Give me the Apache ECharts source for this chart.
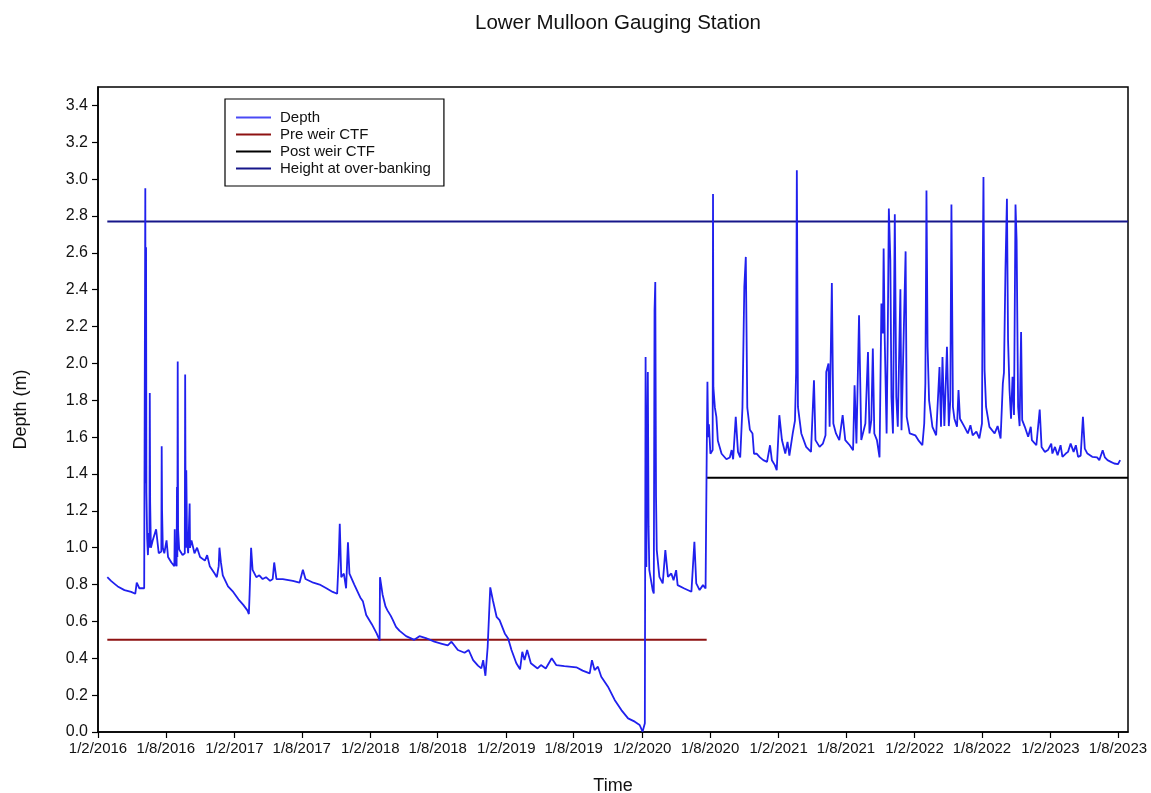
<!DOCTYPE html>
<html>
<head>
<meta charset="utf-8">
<title>Lower Mulloon Gauging Station</title>
<script src="https://cdn.jsdelivr.net/npm/echarts@6/dist/echarts.min.js"></script>
<style>
  html, body { margin: 0; padding: 0; background: #fff; }
  #chart { width: 1151px; height: 793px; }
</style>
</head>
<body>
<div id="chart"></div>
<script>
// depth readings (m)
var depthDates = [
  '2016-02-26','2016-03-07','2016-03-19','2016-03-22','2016-03-25','2016-04-12','2016-04-30','2016-05-11','2016-05-15','2016-05-22',
  '2016-06-04','2016-06-06','2016-06-07','2016-06-08','2016-06-09','2016-06-10','2016-06-12','2016-06-14','2016-06-16','2016-06-18',
  '2016-06-19','2016-06-20','2016-06-22','2016-06-27','2016-07-06','2016-07-13','2016-07-20','2016-07-21','2016-07-22','2016-07-24',
  '2016-07-28','2016-08-03','2016-08-07','2016-08-16','2016-08-24','2016-08-25','2016-08-26','2016-08-30','2016-08-31','2016-09-01',
  '2016-09-02','2016-09-03','2016-09-06','2016-09-15','2016-09-21','2016-09-22','2016-09-23','2016-09-24','2016-09-25','2016-09-27',
  '2016-09-30','2016-10-03','2016-10-04','2016-10-05','2016-10-09','2016-10-17','2016-10-24','2016-11-01','2016-11-14','2016-11-20',
  '2016-11-27','2016-12-10','2016-12-16','2016-12-21','2016-12-23','2016-12-27','2017-01-01','2017-01-15','2017-01-29','2017-02-12',
  '2017-02-25','2017-03-08','2017-03-12','2017-03-14','2017-03-18','2017-03-22','2017-04-01','2017-04-09','2017-04-18','2017-04-27',
  '2017-05-08','2017-05-15','2017-05-19','2017-05-25','2017-06-11','2017-07-08','2017-07-26','2017-08-04','2017-08-11','2017-09-01',
  '2017-09-18','2017-10-06','2017-10-23','2017-11-04','2017-11-08','2017-11-11','2017-11-15','2017-11-22','2017-11-28','2017-12-03',
  '2017-12-07','2017-12-20','2018-01-05','2018-01-12','2018-01-21','2018-02-05','2018-02-18','2018-02-26','2018-02-27','2018-03-06',
  '2018-03-14','2018-03-19','2018-03-28','2018-04-02','2018-04-11','2018-04-20','2018-05-08','2018-05-30','2018-06-13','2018-06-30',
  '2018-07-23','2018-08-10','2018-08-28','2018-09-07','2018-09-24','2018-10-12','2018-10-23','2018-11-04','2018-11-17','2018-11-26',
  '2018-12-01','2018-12-07','2018-12-13','2018-12-20','2018-12-27','2019-01-06','2019-01-14','2019-01-28','2019-02-06','2019-02-15',
  '2019-02-28','2019-03-10','2019-03-16','2019-03-22','2019-03-29','2019-04-08','2019-04-26','2019-05-05','2019-05-18','2019-06-03',
  '2019-06-15','2019-07-07','2019-08-08','2019-08-25','2019-09-13','2019-09-19','2019-09-26','2019-10-05','2019-10-14','2019-11-01',
  '2019-11-19','2019-12-07','2019-12-25','2020-01-12','2020-01-25','2020-02-02','2020-02-08','2020-02-10','2020-02-12','2020-02-16',
  '2020-02-18','2020-02-20','2020-02-29','2020-03-03','2020-03-05','2020-03-07','2020-03-09','2020-03-11','2020-03-18','2020-03-27',
  '2020-04-03','2020-04-10','2020-04-19','2020-04-25','2020-05-02','2020-05-06','2020-05-24','2020-06-12','2020-06-20','2020-06-25',
  '2020-07-04','2020-07-13','2020-07-20','2020-07-23','2020-07-25','2020-07-27','2020-07-29','2020-08-02','2020-08-08','2020-08-09',
  '2020-08-10','2020-08-14','2020-08-18','2020-08-22','2020-09-01','2020-09-14','2020-09-23','2020-09-28','2020-10-02','2020-10-09',
  '2020-10-15','2020-10-21','2020-10-27','2020-11-01','2020-11-05','2020-11-09','2020-11-16','2020-11-23','2020-11-27','2020-12-04',
  '2020-12-13','2020-12-22','2021-01-01','2021-01-09','2021-01-14','2021-01-22','2021-01-27','2021-02-03','2021-02-10','2021-02-19',
  '2021-02-25','2021-03-02','2021-03-11','2021-03-17','2021-03-20','2021-03-22','2021-03-25','2021-04-03','2021-04-16','2021-04-29',
  '2021-05-07','2021-05-11','2021-05-22','2021-05-31','2021-06-07','2021-06-09','2021-06-15','2021-06-18','2021-06-24','2021-06-28',
  '2021-07-05','2021-07-14','2021-07-23','2021-07-30','2021-08-11','2021-08-20','2021-08-24','2021-08-29','2021-09-05','2021-09-11',
  '2021-09-22','2021-09-29','2021-10-03','2021-10-08','2021-10-12','2021-10-16','2021-10-23','2021-10-30','2021-11-04','2021-11-08',
  '2021-11-10','2021-11-13','2021-11-18','2021-11-21','2021-11-24','2021-11-28','2021-12-01','2021-12-05','2021-12-10','2021-12-14',
  '2021-12-18','2021-12-25','2021-12-28','2022-01-08','2022-01-11','2022-01-19','2022-02-03','2022-02-11','2022-02-22','2022-02-27',
  '2022-03-02','2022-03-04','2022-03-05','2022-03-08','2022-03-12','2022-03-21','2022-03-31','2022-04-09','2022-04-13','2022-04-17',
  '2022-04-22','2022-04-29','2022-05-04','2022-05-08','2022-05-11','2022-05-15','2022-05-19','2022-05-26','2022-05-30','2022-06-03',
  '2022-06-15','2022-06-24','2022-07-01','2022-07-07','2022-07-17','2022-07-25','2022-08-01','2022-08-03','2022-08-05','2022-08-08',
  '2022-08-12','2022-08-21','2022-09-04','2022-09-12','2022-09-20','2022-09-26','2022-09-29','2022-10-03','2022-10-07','2022-10-10',
  '2022-10-14','2022-10-18','2022-10-22','2022-10-26','2022-10-30','2022-11-02','2022-11-06','2022-11-10','2022-11-14','2022-11-17',
  '2022-11-24','2022-12-03','2022-12-10','2022-12-13','2022-12-25','2023-01-03','2023-01-08','2023-01-17','2023-01-25','2023-02-03',
  '2023-02-06','2023-02-13','2023-02-20','2023-02-28','2023-03-05','2023-03-14','2023-03-20','2023-03-27','2023-04-04','2023-04-10',
  '2023-04-16','2023-04-23','2023-04-29','2023-05-04','2023-05-11','2023-05-24','2023-06-06','2023-06-12','2023-06-21','2023-06-27',
  '2023-07-04','2023-07-13','2023-07-22','2023-08-01','2023-08-07'
];
var depthValues = [
  0.84,0.82,0.80,0.81,0.79,0.77,0.76,0.75,0.81,0.78,
  0.78,0.78,2.95,1.35,2.63,1.30,1.05,0.96,1.08,1.00,
  1.84,1.25,1.00,1.04,1.10,0.97,0.98,1.55,1.20,1.00,
  0.97,1.04,0.95,0.92,0.90,1.10,0.92,0.90,1.33,0.95,
  2.01,1.10,0.99,0.96,0.97,1.94,1.30,1.00,1.42,1.05,
  0.97,0.98,1.24,1.00,1.04,0.97,1.00,0.95,0.93,0.96,
  0.90,0.86,0.84,0.90,1.00,0.92,0.85,0.79,0.76,0.72,
  0.69,0.66,0.64,0.75,1.00,0.88,0.84,0.85,0.83,0.84,
  0.82,0.83,0.92,0.83,0.83,0.82,0.81,0.88,0.83,0.81,
  0.80,0.78,0.76,0.75,0.93,1.13,0.84,0.86,0.78,1.03,
  0.86,0.80,0.73,0.71,0.635,0.585,0.535,0.497,0.84,0.745,
  0.68,0.66,0.63,0.61,0.57,0.55,0.52,0.50,0.52,0.51,
  0.49,0.48,0.47,0.49,0.445,0.43,0.445,0.39,0.36,0.345,
  0.39,0.305,0.46,0.785,0.715,0.625,0.607,0.535,0.508,0.445,
  0.373,0.34,0.435,0.39,0.445,0.373,0.345,0.363,0.345,0.40,
  0.363,0.358,0.351,0.333,0.318,0.39,0.336,0.354,0.30,0.246,
  0.174,0.119,0.074,0.056,0.038,0.002,0.047,2.035,0.896,1.954,
  1.113,0.878,0.77,0.752,2.288,2.442,1.276,0.987,0.842,0.806,
  0.987,0.842,0.86,0.824,0.878,0.797,0.779,0.761,1.032,0.806,
  0.77,0.797,0.779,1.49,1.90,1.60,1.67,1.51,1.53,2.92,
  1.87,1.76,1.71,1.58,1.51,1.48,1.49,1.53,1.48,1.71,
  1.52,1.49,1.76,2.415,2.578,1.76,1.64,1.62,1.51,1.51,
  1.49,1.475,1.466,1.556,1.475,1.448,1.421,1.719,1.584,1.511,
  1.574,1.50,1.62,1.69,1.945,3.048,1.764,1.62,1.547,1.52,
  1.909,1.584,1.547,1.565,1.61,1.954,2.00,1.656,2.437,1.674,
  1.62,1.584,1.719,1.584,1.556,1.529,1.882,1.565,2.261,1.584,
  1.674,2.062,1.62,1.692,2.081,1.62,1.584,1.49,2.325,2.162,
  2.623,2.126,1.62,2.14,2.84,2.56,1.818,1.62,2.809,1.818,
  1.656,2.402,1.638,2.608,1.71,1.62,1.61,1.584,1.556,1.674,
  1.891,2.54,2.939,2.09,1.80,1.656,1.61,1.981,1.656,2.035,
  1.66,2.09,1.66,1.80,2.862,1.764,1.70,1.656,1.855,1.70,
  1.656,1.62,1.665,1.61,1.63,1.593,1.674,2.488,3.012,1.963,
  1.764,1.656,1.62,1.66,1.593,1.891,1.95,2.505,2.894,2.126,
  1.855,1.70,1.927,1.72,2.862,2.668,1.764,1.66,2.171,1.692,
  1.656,1.602,1.656,1.584,1.556,1.75,1.547,1.52,1.53,1.565,
  1.511,1.547,1.502,1.556,1.493,1.511,1.52,1.565,1.52,1.556,
  1.493,1.50,1.71,1.538,1.511,1.493,1.49,1.475,1.529,1.49,
  1.475,1.466,1.457,1.453,1.475
];

// reference levels (m) and the spans they are drawn over
var preWeirDates = ['2016-02-26', '2020-07-23'];
var preWeirLevel = 0.50;
var postWeirDates = ['2020-07-23', '2023-08-28'];
var postWeirLevel = 1.38;
var overBankDates = ['2016-02-26', '2023-08-28'];
var overBankLevel = 2.77;

var xTickDates = [
  '2016-02-01','2016-08-01','2017-02-01','2017-08-01','2018-02-01','2018-08-01','2019-02-01','2019-08-01',
  '2020-02-01','2020-08-01','2021-02-01','2021-08-01','2022-02-01','2022-08-01','2023-02-01','2023-08-01'
];
var yTickValues = [0, 0.2, 0.4, 0.6, 0.8, 1.0, 1.2, 1.4, 1.6, 1.8, 2.0, 2.2, 2.4, 2.6, 2.8, 3.0, 3.2, 3.4];

// dates go on a plain value axis as day timestamps (UTC)
function toTime(s) {
    var p = s.split('-');
    return Date.UTC(+p[0], +p[1] - 1, +p[2]);
}
function pairs(dates, vals) {
    var out = [];
    for (var i = 0; i < dates.length; i++) {
        out.push([toTime(dates[i]), vals[i]]);
    }
    return out;
}
function flat(dates, level) {
    return dates.map(function (d) { return [toTime(d), level]; });
}

var FONT = 'Liberation Sans, Arial, sans-serif';
var chart = echarts.init(document.getElementById('chart'));

var option = {
    backgroundColor: '#fff',
    animation: false,
    title: {
        text: 'Lower Mulloon Gauging Station',
        left: 613,
        top: 8,
        textAlign: 'center',
        textStyle: { fontFamily: FONT, fontSize: 20.5, fontWeight: 'normal', color: '#111' }
    },
    grid: {
        left: 98, right: 23, top: 87, bottom: 61,
        outerBoundsMode: 'none',
        containLabel: false,
        show: true, borderColor: '#000', borderWidth: 1.5, backgroundColor: 'transparent'
    },
    legend: {
        orient: 'vertical',
        left: 225,
        top: 99,
        padding: [11, 13, 10, 11],
        itemGap: 2,
        icon: 'rect',
        itemWidth: 35,
        itemHeight: 2,
        borderColor: '#000',
        borderWidth: 1.2,
        backgroundColor: '#fff',
        textStyle: { fontFamily: FONT, fontSize: 15, color: '#111', lineHeight: 15, padding: [0, 0, 0, 4] },
        data: ['Depth', 'Pre weir CTF', 'Post weir CTF', 'Height at over-banking']
    },
    xAxis: {
        type: 'value',
        min: toTime('2016-02-01'),
        max: toTime('2023-08-28'),
        name: 'Time',
        nameLocation: 'middle',
        nameGap: 45,
        nameTextStyle: { fontFamily: FONT, fontSize: 18, color: '#111' },
        axisLine: { lineStyle: { color: '#000', width: 1.5 } },
        axisTick: { length: 6, lineStyle: { color: '#000', width: 1.2 }, customValues: xTickDates.map(toTime) },
        axisLabel: {
            customValues: xTickDates.map(toTime),
            margin: 9,
            fontFamily: FONT, fontSize: 15, color: '#111',
            formatter: function (v) {
                var d = new Date(v);
                return d.getUTCDate() + '/' + (d.getUTCMonth() + 1) + '/' + d.getUTCFullYear();
            }
        },
        splitLine: { show: false }
    },
    yAxis: {
        type: 'value',
        min: 0,
        max: 3.5,
        name: 'Depth (m)',
        nameLocation: 'middle',
        nameGap: 68,
        nameTextStyle: { fontFamily: FONT, fontSize: 18, color: '#111' },
        axisLine: { show: true, lineStyle: { color: '#000', width: 1.5 } },
        axisTick: { show: true, length: 6, lineStyle: { color: '#000', width: 1.2 }, customValues: yTickValues },
        axisLabel: {
            customValues: yTickValues,
            margin: 10,
            fontFamily: FONT, fontSize: 16, color: '#111',
            formatter: function (v) { return v.toFixed(1); }
        },
        splitLine: { show: false }
    },
    series: [
        {
            name: 'Depth', type: 'line', symbol: 'none', showSymbol: false,
            lineStyle: { color: '#2020ee', width: 1.8 }, itemStyle: { color: '#4a4af5' },
            data: pairs(depthDates, depthValues), z: 5
        },
        {
            name: 'Pre weir CTF', type: 'line', symbol: 'none', showSymbol: false,
            lineStyle: { color: '#8e1212', width: 2 }, itemStyle: { color: '#8e1212' },
            data: flat(preWeirDates, preWeirLevel), z: 3
        },
        {
            name: 'Post weir CTF', type: 'line', symbol: 'none', showSymbol: false,
            lineStyle: { color: '#000', width: 2 }, itemStyle: { color: '#000' },
            data: flat(postWeirDates, postWeirLevel), z: 3
        },
        {
            name: 'Height at over-banking', type: 'line', symbol: 'none', showSymbol: false,
            lineStyle: { color: '#16168a', width: 2 }, itemStyle: { color: '#16168a' },
            data: flat(overBankDates, overBankLevel), z: 3
        }
    ]
};

chart.setOption(option);
</script>
</body>
</html>
